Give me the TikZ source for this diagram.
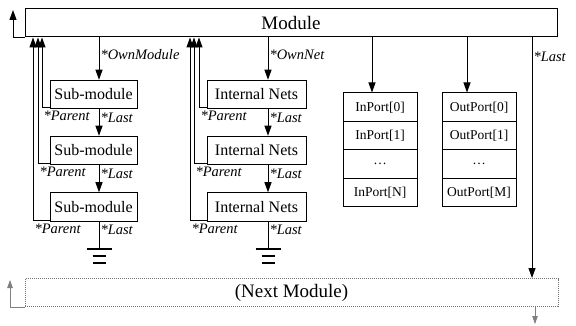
\documentclass[tikz,border=0pt]{standalone}
\usepackage{fontspec}
\setmainfont{Liberation Serif}
\usetikzlibrary{arrows.meta,calc}

\begin{document}
\begin{tikzpicture}[x=1pt, y=-1pt,
    mbox/.style={draw, line width=1pt, minimum height=28pt, inner sep=0pt, font=\fontsize{19}{21}\selectfont},
    box/.style={draw, line width=1pt, minimum width=87pt, minimum height=28.5pt, inner sep=0pt, font=\fontsize{16}{18}\selectfont},
    port/.style={draw, line width=1pt, minimum width=74pt, minimum height=28.5pt, inner sep=0pt, font=\fontsize{13.5}{15}\selectfont},
    arr/.style={-{Triangle[length=10pt,width=7pt]}, line width=1pt},
    back/.style={-{Triangle[length=8pt,width=5.5pt]}, line width=0.8pt, black!50},
    lbl/.style={font=\fontsize{14.5}{16}\selectfont\itshape, inner sep=1pt},
    gnd/.pic={
        \draw[line width=1.6pt] (-12.5,0) -- (12.5,0);
        \draw[line width=2.6pt] (-6.5,7) -- (6.5,7);
        \draw[line width=2.6pt] (-6.5,14) -- (6.5,14);
    }
]
\useasboundingbox (0,0) rectangle (576,326);

% top and bottom modules
\node[mbox, minimum width=532pt] (mod) at (291,23) {Module};
\node[mbox, minimum width=533pt, draw=black!55, densely dotted] (next) at (291.5,292.5) {(Next Module)};

% sub-module and net chains
\foreach \i/\y in {1/94.5, 2/150.5, 3/207} {
    \node[box] (sub\i) at (93.5,\y) {Sub-module};
    \node[box, minimum width=99pt] (net\i) at (256.5,\y) {Internal Nets};
}

% port tables
\foreach \t [count=\k from 0] in {InPort[0], InPort[1], \dots, InPort[N]}
    \node[port] (in\k) at (380, 107.25+28.5*\k) {\t};
\foreach \t [count=\k from 0] in {OutPort[0], OutPort[1], \dots, OutPort[M]}
    \node[port] (out\k) at (479, 107.25+28.5*\k) {\t};

% columns of the pointer arrows
\coordinate (sx) at (99,0);
\coordinate (nx) at (268,0);
\coordinate (ix) at (372,0);
\coordinate (ox) at (467,0);
\coordinate (lx) at (532,0);
\coordinate (g1) at (99,249);
\coordinate (g2) at (268,249);

% sub-modules
\draw[arr] (sx |- mod.south) -- node[lbl, right, pos=0.4] {*OwnModule} (sx |- sub1.north);
\draw[arr] (sx |- sub1.south) -- node[lbl, anchor=north west, pos=0, yshift=-2pt] {*Last} (sx |- sub2.north);
\draw[arr] (sx |- sub2.south) -- node[lbl, anchor=north west, pos=0, yshift=-2pt] {*Last} (sx |- sub3.north);
\draw[line width=1pt] (g1 |- sub3.south) -- node[lbl, anchor=north west, pos=0, yshift=-2pt] {*Last} (g1);
\pic at (g1) {gnd};
\foreach \i/\px in {1/42, 2/38, 3/33} {
    \coordinate (p\i) at (\px,0);
    \draw[arr] ($(sub\i.south west)+(0,-1.5)$) -| node[lbl, pos=0.5, anchor=north west, yshift=-2pt] {*Parent} (p\i |- mod.south);
}

% internal nets
\draw[arr] (nx |- mod.south) -- node[lbl, right, pos=0.4] {*OwnNet} (nx |- net1.north);
\draw[arr] (nx |- net1.south) -- node[lbl, anchor=north west, pos=0, yshift=-2pt] {*Last} (nx |- net2.north);
\draw[arr] (nx |- net2.south) -- node[lbl, anchor=north west, pos=0, yshift=-2pt] {*Last} (nx |- net3.north);
\draw[line width=1pt] (g2 |- net3.south) -- node[lbl, anchor=north west, pos=0, yshift=-2pt] {*Last} (g2);
\pic at (g2) {gnd};
\foreach \i/\px in {1/199, 2/194, 3/190} {
    \coordinate (q\i) at (\px,0);
    \draw[arr] ($(net\i.south west)+(0,-1.5)$) -| node[lbl, pos=0.5, anchor=north west, yshift=-2pt] {*Parent} (q\i |- mod.south);
}

% ports
\draw[arr] (ix |- mod.south) -- (ix |- in0.north);
\draw[arr] (ox |- mod.south) -- (ox |- out0.north);

% module list links
\coordinate (tl) at (13,10);
\draw[arr] (mod.south west) -| (tl);
\draw[arr] (lx |- mod.south) -- node[lbl, right, pos=0.08] {*Last} (lx |- next.north);
\coordinate (bl) at (10,280);
\coordinate (br) at (535,324);
\draw[back] (next.south west) -| (bl);
\draw[back] (next.south -| br) -- (br);
\end{tikzpicture}
\end{document}
